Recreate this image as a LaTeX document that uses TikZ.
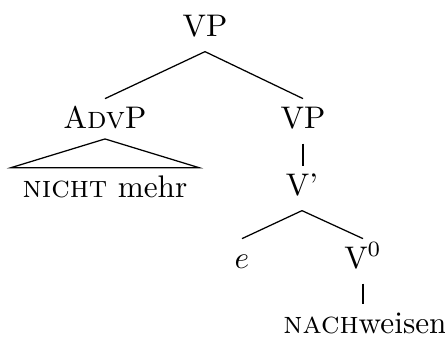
\documentclass[tikz,border=0pt]{standalone}
\usepackage{tikz}
\usetikzlibrary{positioning,calc}
\tikzstyle{cat}=[inner xsep=1pt, inner ysep=2.2pt, text height=7pt, text depth=2.6pt, anchor=base]
\tikzstyle{branch}=[draw=black, line width=0.4pt]

\begin{document}
\begin{tikzpicture}[x=0.32pt, y=-0.32pt]
      \useasboundingbox (0,0) rectangle (445,338);
      % 
      \node[cat] (vp) at (205,36) {VP};
      \node[cat] (advp) at (105,128) {A\textsc{dv}P};
      \node[cat] (vp2) at (303,128) {VP};
      \node[cat, inner xsep=3.5pt] (nicht) at (105,197) {\textsc{nicht} mehr};
      \node[cat] (vbar) at (302,195) {V'};
      \node[cat] (e) at (242,268) {$e$};
      \node[cat] (v0) at (363,268) {V$^0$};
      \node[cat] (nach) at (365,333) {\textsc{nach}weisen};
      %
      \draw[branch] (vp.south) -- (advp.north);
      \draw[branch] (vp.south) -- (vp2.north);
      \draw[branch] ([yshift=1.5pt]advp.south) -- (nicht.north east) -- (nicht.north west) -- cycle;
      \draw[branch] (vp2.south) -- (vp2.south |- vbar.north);
      \draw[branch] (vbar.south) -- (e.north);
      \draw[branch] (vbar.south) -- (v0.north);
      \draw[branch] (v0.south) -- (v0.south |- nach.north);
      %
\end{tikzpicture}
\end{document}
